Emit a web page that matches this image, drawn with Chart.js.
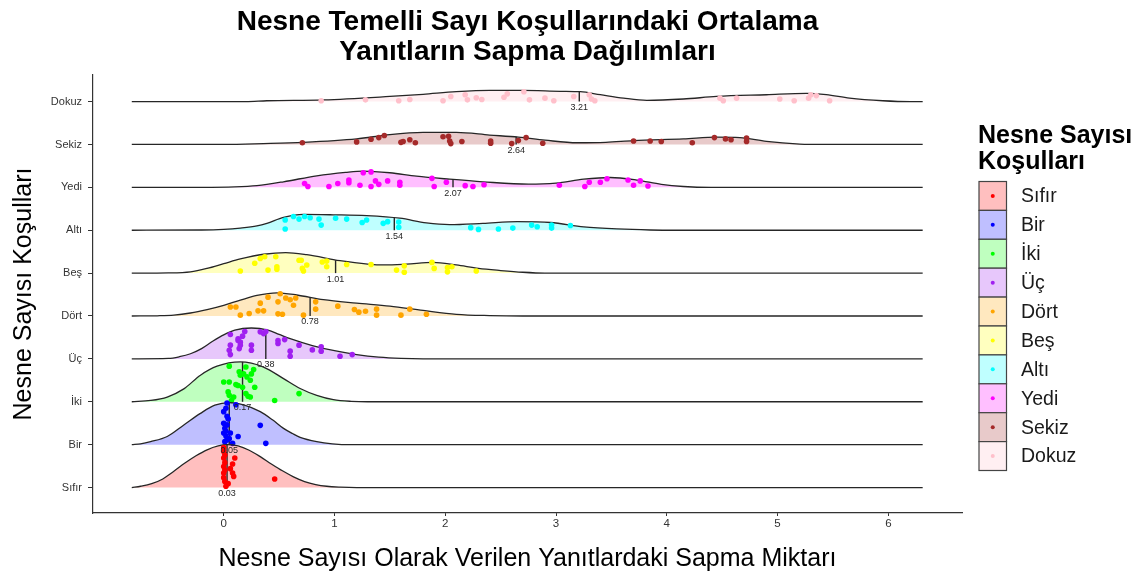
<!DOCTYPE html>
<html>
<head>
<meta charset="utf-8">
<script src="https://cdn.jsdelivr.net/npm/chart.js@4.4.1/dist/chart.umd.min.js"></script>
<style>
  html, body { margin: 0; padding: 0; background: #fff; }
  #chart { display: block; }
</style>
</head>
<body>
<canvas id="chart" width="1143" height="575"></canvas>
<script>
// Ridgeline of deviation per object-count condition (bottom to top)
const categories = ['Sıfır', 'Bir', 'İki', 'Üç', 'Dört', 'Beş', 'Altı', 'Yedi', 'Sekiz', 'Dokuz'];
const colors = ['#FF0000', '#0000FF', '#00FF00', '#A020F0', '#FFA500', '#FFFF00', '#00FFFF', '#FF00FF', '#A52A2A', '#FFC0CB'];
const means = [0.03, 0.05, 0.17, 0.38, 0.78, 1.01, 1.54, 2.07, 2.64, 3.21];
const meanTops = [1.0, 0.98, 0.93, 0.69, 0.44, 0.30, 0.30, 0.19, 0.18, 0.23];
const xTicks = [0, 1, 2, 3, 4, 5, 6];

// density outlines: [x, height in row units]
const ridgeSifir = [[-0.83,0],[-0.75,0.03],[-0.65,0.09],[-0.55,0.2],[-0.45,0.38],[-0.35,0.57],[-0.25,0.74],[-0.15,0.88],[-0.05,0.97],[0.03,1.0],[0.13,0.97],[0.23,0.87],[0.33,0.72],[0.43,0.55],[0.53,0.39],[0.63,0.25],[0.73,0.14],[0.83,0.07],[0.93,0.03],[1.05,0.01],[1.2,0],[6.31,0]];
const ridgeBir = [[-0.83,0],[-0.75,0.02],[-0.66,0.07],[-0.51,0.19],[-0.36,0.46],[-0.21,0.73],[-0.08,0.92],[0.05,0.98],[0.18,0.93],[0.33,0.77],[0.44,0.58],[0.54,0.38],[0.62,0.26],[0.69,0.17],[0.84,0.07],[0.98,0.02],[1.15,0],[6.31,0]];
const ridgeIki = [[-0.83,0],[-0.66,0.03],[-0.51,0.11],[-0.36,0.3],[-0.21,0.62],[-0.06,0.83],[0.15,0.93],[0.36,0.81],[0.54,0.54],[0.69,0.31],[0.84,0.15],[0.99,0.05],[1.15,0.01],[1.3,0],[6.31,0]];
const ridgeUc = [[-0.83,0],[-0.5,0.01],[-0.4,0.05],[-0.3,0.12],[-0.2,0.24],[-0.1,0.41],[0,0.56],[0.1,0.67],[0.25,0.72],[0.4,0.67],[0.5,0.57],[0.6,0.47],[0.8,0.31],[1.0,0.19],[1.2,0.1],[1.4,0.04],[1.6,0.01],[1.8,0],[6.31,0]];
const ridgeDort = [[-0.83,0],[-0.6,0.005],[-0.45,0.02],[-0.3,0.07],[-0.15,0.15],[0,0.25],[0.15,0.37],[0.3,0.48],[0.48,0.54],[0.66,0.49],[0.9,0.38],[1.2,0.30],[1.5,0.23],[1.8,0.13],[2.1,0.04],[2.4,0.01],[2.7,0],[6.31,0]];
const ridgeBes = [[-0.83,0],[-0.5,0.005],[-0.3,0.03],[-0.15,0.11],[0,0.22],[0.15,0.33],[0.36,0.44],[0.56,0.48],[0.75,0.43],[1.05,0.29],[1.3,0.21],[1.45,0.19],[1.65,0.21],[1.89,0.25],[2.1,0.19],[2.3,0.11],[2.5,0.06],[2.7,0.02],[2.9,0],[6.31,0]];
const ridgeAlti = [[-0.83,0],[-0.2,0.005],[0,0.02],[0.15,0.05],[0.3,0.1],[0.39,0.16],[0.54,0.30],[0.72,0.37],[0.99,0.36],[1.29,0.34],[1.59,0.28],[1.83,0.17],[2.04,0.13],[2.34,0.16],[2.65,0.2],[2.95,0.18],[3.25,0.08],[3.55,0.03],[3.85,0.005],[4.1,0],[6.31,0]];
const ridgeYedi = [[-0.83,0],[-0.2,0],[0.1,0.01],[0.3,0.04],[0.54,0.13],[0.84,0.27],[1.1,0.35],[1.26,0.38],[1.5,0.34],[1.74,0.26],[2.04,0.19],[2.34,0.13],[2.75,0.075],[3.0,0.1],[3.25,0.19],[3.49,0.23],[3.73,0.17],[3.95,0.07],[4.15,0.02],[4.4,0],[6.31,0]];
const ridgeSekiz = [[-0.83,0],[0,0],[0.36,0.02],[0.72,0.05],[1.2,0.13],[1.5,0.23],[1.8,0.28],[2.1,0.28],[2.4,0.22],[2.66,0.17],[2.9,0.1],[3.19,0.04],[3.45,0.05],[3.7,0.09],[4.15,0.13],[4.45,0.17],[4.66,0.16],[4.9,0.07],[5.2,0.01],[5.4,0],[6.31,0]];
const ridgeDokuz = [[-0.83,0],[0.2,0],[0.39,0.02],[0.9,0.04],[1.5,0.12],[1.8,0.17],[2.1,0.23],[2.4,0.26],[2.7,0.26],[3.04,0.24],[3.22,0.23],[3.4,0.16],[3.61,0.08],[3.82,0.03],[4.15,0.06],[4.45,0.12],[4.9,0.16],[5.26,0.19],[5.44,0.16],[5.65,0.08],[5.95,0.02],[6.2,0],[6.31,0]];

// jittered raw points: [x, offset above the baseline]
const ptsSifir = [[0.00,0.93],[0.00,0.84],[0.01,0.76],[0.00,0.69],[0.01,0.58],[0.00,0.49],[0.01,0.41],[0.00,0.34],[0.00,0.23],[0.01,0.14],[0.04,0.09],[0.02,0.03],[0.10,0.69],[0.08,0.55],[0.06,0.44],[0.08,0.34],[0.09,0.26],[0.46,0.20]];
const ptsBir = [[0.03,0.97],[0.02,0.85],[0.00,0.77],[0.03,0.66],[0.04,0.60],[0.00,0.50],[0.03,0.46],[0.01,0.38],[0.02,0.31],[0.00,0.27],[0.02,0.20],[0.05,0.14],[0.03,0.11],[0.01,0.07],[0.11,0.93],[0.06,0.27],[0.13,0.19],[0.08,0.03],[0.33,0.45],[0.38,0.03]];
const ptsIki = [[0.05,0.83],[0.20,0.81],[0.27,0.75],[0.14,0.70],[0.18,0.65],[0.25,0.65],[0.15,0.62],[0.21,0.58],[0.24,0.50],[0.00,0.46],[0.05,0.46],[0.11,0.40],[0.13,0.38],[0.28,0.34],[0.17,0.34],[0.04,0.23],[0.05,0.15],[0.09,0.11],[0.20,0.19],[0.22,0.13],[0.24,0.11],[0.07,0.03],[0.46,0.03],[0.68,0.19]];
const ptsUc = [[0.06,0.57],[0.19,0.64],[0.17,0.53],[0.13,0.47],[0.13,0.43],[0.15,0.39],[0.15,0.32],[0.06,0.32],[0.05,0.20],[0.06,0.10],[0.14,0.24],[0.25,0.32],[0.25,0.20],[0.33,0.63],[0.36,0.59],[0.38,0.64],[0.49,0.43],[0.55,0.45],[0.49,0.36],[0.68,0.32],[0.60,0.18],[0.60,0.06],[0.80,0.21],[0.88,0.28],[0.88,0.18],[1.05,0.06],[1.16,0.10]];
const ptsDort = [[0.06,0.21],[0.11,0.21],[0.15,0.02],[0.23,0.06],[0.31,0.12],[0.36,0.12],[0.33,0.30],[0.40,0.44],[0.51,0.52],[0.56,0.42],[0.60,0.38],[0.65,0.42],[0.63,0.25],[0.49,0.33],[0.53,0.04],[0.49,0.05],[0.72,0.02],[0.83,0.33],[0.83,0.16],[1.03,0.23],[1.18,0.15],[1.22,0.09],[1.28,0.11],[1.38,0.16],[1.38,0.02],[1.60,0.02],[1.68,0.16],[1.83,0.04]];
const ptsBes = [[0.15,0.05],[0.28,0.23],[0.33,0.34],[0.37,0.38],[0.40,0.07],[0.47,0.38],[0.48,0.15],[0.48,0.09],[0.68,0.30],[0.70,0.30],[0.71,0.11],[0.72,0.05],[0.75,0.19],[0.89,0.26],[0.93,0.28],[0.93,0.15],[1.11,0.20],[1.33,0.20],[1.56,0.07],[1.63,0.17],[1.63,0.02],[1.88,0.25],[1.90,0.11],[2.02,0.13],[2.02,0.03],[2.06,0.15],[2.28,0.05]];
const ptsAlti = [[0.555,0.24],[0.555,0.03],[0.63,0.32],[0.68,0.26],[0.73,0.32],[0.78,0.29],[0.86,0.26],[0.88,0.12],[1.01,0.28],[1.11,0.26],[1.25,0.18],[1.29,0.24],[1.44,0.16],[1.48,0.20],[1.58,0.19],[1.58,0.07],[2.23,0.06],[2.30,0.02],[2.48,0.03],[2.61,0.05],[2.78,0.12],[2.83,0.08],[2.96,0.12],[2.96,0.05],[3.13,0.11]];
const ptsYedi = [[0.73,0.09],[0.76,0.02],[0.95,0.02],[1.03,0.09],[1.13,0.17],[1.13,0.11],[1.23,0.05],[1.26,0.34],[1.33,0.36],[1.37,0.15],[1.40,0.07],[1.33,0.02],[1.48,0.15],[1.59,0.12],[1.59,0.05],[1.88,0.21],[1.90,0.02],[2.01,0.12],[2.18,0.04],[2.25,0.02],[2.35,0.06],[3.03,0.05],[3.26,0.02],[3.30,0.12],[3.40,0.12],[3.46,0.20],[3.65,0.17],[3.70,0.05],[3.76,0.15],[3.83,0.03]];
const ptsSekiz = [[0.71,0.04],[1.20,0.06],[1.33,0.12],[1.40,0.16],[1.45,0.21],[1.60,0.05],[1.62,0.07],[1.68,0.11],[1.73,0.04],[1.98,0.18],[2.03,0.19],[2.04,0.08],[2.05,0.02],[2.15,0.07],[2.41,0.08],[2.41,0.03],[2.60,0.02],[2.66,0.09],[2.73,0.16],[2.88,0.03],[3.70,0.08],[3.85,0.08],[3.95,0.07],[4.23,0.04],[4.43,0.16],[4.53,0.13],[4.58,0.11],[4.72,0.15],[4.72,0.07]];
const ptsDokuz = [[0.88,0.02],[1.28,0.04],[1.58,0.02],[1.68,0.05],[1.98,0.02],[2.05,0.12],[2.18,0.16],[2.20,0.04],[2.28,0.09],[2.33,0.05],[2.53,0.10],[2.56,0.18],[2.71,0.23],[2.76,0.04],[2.90,0.08],[2.98,0.02],[3.16,0.12],[3.30,0.16],[3.32,0.06],[3.35,0.02],[4.48,0.08],[4.51,0.02],[4.63,0.08],[5.02,0.06],[5.15,0.02],[5.28,0.08],[5.30,0.16],[5.35,0.14],[5.47,0.02]];

const ridges = [ridgeSifir, ridgeBir, ridgeIki, ridgeUc, ridgeDort, ridgeBes, ridgeAlti, ridgeYedi, ridgeSekiz, ridgeDokuz];
const points = [ptsSifir, ptsBir, ptsIki, ptsUc, ptsDort, ptsBes, ptsAlti, ptsYedi, ptsSekiz, ptsDokuz];

const FONT = '"Liberation Sans", Arial, Helvetica, sans-serif';

function withAlpha(hex, a) {
    const n = parseInt(hex.slice(1), 16);
    return `rgba(${(n >> 16) & 255}, ${(n >> 8) & 255}, ${n & 255}, ${a})`;
}

// lower rows get lower order so they are painted over the rows above them
const datasets = [];
categories.forEach((cat, i) => {
    const base = i + 1;
    datasets.push({
        type: 'line',
        label: cat,
        data: ridges[i].map(([x, h]) => ({ x, y: base + h })),
        borderColor: '#262626',
        borderWidth: 1.3,
        backgroundColor: withAlpha(colors[i], 0.25),
        fill: { value: base },
        pointRadius: 0,
        cubicInterpolationMode: 'monotone',
        order: i * 3 + 2
    });
    datasets.push({
        type: 'line',
        label: cat + ' ort',
        data: [{ x: means[i], y: base }, { x: means[i], y: base + meanTops[i] }],
        borderColor: '#262626',
        borderWidth: 1.4,
        pointRadius: 0,
        fill: false,
        order: i * 3 + 1
    });
    datasets.push({
        type: 'scatter',
        label: cat + ' nokta',
        data: points[i].map(([x, h]) => ({ x, y: base + h })),
        backgroundColor: colors[i],
        borderWidth: 0,
        pointRadius: 2.8,
        order: i * 3
    });
});

// titles, mean labels and the legend are painted on top
const decorations = {
    id: 'decorations',
    afterDraw(chart) {
        const ctx = chart.ctx;
        const xs = chart.scales.x, ys = chart.scales.y;
        const area = chart.chartArea;
        const midX = (area.left + area.right) / 2;
        ctx.save();

        // mean value labels under each baseline
        ctx.font = '9px ' + FONT;
        ctx.fillStyle = '#262626';
        ctx.textAlign = 'center';
        ctx.textBaseline = 'middle';
        means.forEach((m, i) => {
            ctx.fillText(m.toFixed(2), xs.getPixelForValue(m), ys.getPixelForValue(i + 1) + 6);
        });

        // main title
        ctx.fillStyle = '#000000';
        ctx.font = 'bold 28px ' + FONT;
        ctx.textBaseline = 'alphabetic';
        ctx.fillText('Nesne Temelli Sayı Koşullarındaki Ortalama', midX, 30);
        ctx.fillText('Yanıtların Sapma Dağılımları', midX, 60);

        // axis titles
        ctx.font = '25px ' + FONT;
        ctx.fillText('Nesne Sayısı Olarak Verilen Yanıtlardaki Sapma Miktarı', midX, 566);
        ctx.save();
        ctx.translate(31, (area.top + area.bottom) / 2);
        ctx.rotate(-Math.PI / 2);
        ctx.fillText('Nesne Sayısı Koşulları', 0, 0);
        ctx.restore();

        // legend
        ctx.textAlign = 'left';
        ctx.font = 'bold 25px ' + FONT;
        ctx.fillText('Nesne Sayısı', 978, 143);
        ctx.fillText('Koşulları', 978, 169);
        const keyX = 979, keyW = 27.5, keyTop = 181.5, keyH = 28.9;
        ctx.font = '19.5px ' + FONT;
        categories.forEach((cat, i) => {
            const y = keyTop + i * keyH;
            ctx.fillStyle = '#ffffff';
            ctx.fillRect(keyX, y, keyW, keyH);
            ctx.fillStyle = withAlpha(colors[i], 0.25);
            ctx.fillRect(keyX, y, keyW, keyH);
            ctx.strokeStyle = '#444444';
            ctx.lineWidth = 1.2;
            ctx.strokeRect(keyX, y, keyW, keyH);
            ctx.fillStyle = colors[i];
            ctx.beginPath();
            ctx.arc(keyX + keyW / 2, y + keyH / 2, 2, 0, Math.PI * 2);
            ctx.fill();
            ctx.fillStyle = '#1a1a1a';
            ctx.textBaseline = 'middle';
            ctx.fillText(cat, 1021, y + keyH / 2 + 1);
        });
        ctx.restore();
    }
};

new Chart(document.getElementById('chart'), {
    type: 'scatter',
    data: { datasets },
    options: {
        responsive: false,
        animation: false,
        devicePixelRatio: 1,
        layout: { padding: { top: 75, right: 181, bottom: 0, left: 0 } },
        plugins: {
            legend: { display: false },
            tooltip: { enabled: false },
            title: { display: false }
        },
        scales: {
            x: {
                type: 'linear',
                min: -1.18,
                max: 6.665,
                afterBuildTicks: (scale) => { scale.ticks = xTicks.map(v => ({ value: v })); },
                afterFit: (scale) => { scale.height = 62; },
                ticks: { color: '#333333', font: { family: FONT, size: 11.5 }, padding: 1, maxRotation: 0 },
                grid: { drawOnChartArea: false, tickLength: 3, color: '#333333' },
                border: { display: true, color: '#333333', width: 1.2 }
            },
            y: {
                type: 'linear',
                min: 0.406,
                max: 10.62,
                afterBuildTicks: (scale) => { scale.ticks = categories.map((c, i) => ({ value: i + 1 })); },
                afterFit: (scale) => { scale.width = 93; },
                ticks: {
                    color: '#333333',
                    font: { family: FONT, size: 11 },
                    padding: 6,
                    callback: (v) => categories[Math.round(v) - 1]
                },
                grid: { drawOnChartArea: false, tickLength: 5, color: '#333333' },
                border: { display: true, color: '#333333', width: 1.2 }
            }
        }
    },
    plugins: [decorations]
});
</script>
</body>
</html>
